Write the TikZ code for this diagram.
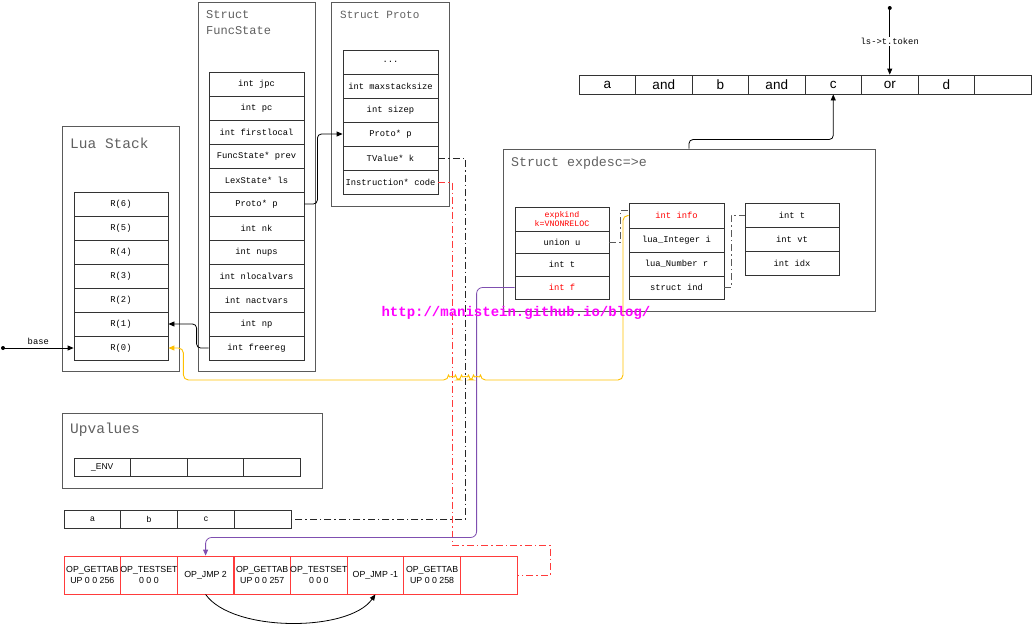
\documentclass[tikz,border=0pt]{standalone}
\usepackage{fontspec}
\setmainfont{Liberation Sans}
\setmonofont{Liberation Mono}
\usetikzlibrary{positioning,arrows.meta}

\definecolor{linegray}{HTML}{5A5A5A}
\definecolor{titlegray}{HTML}{606060}
\definecolor{opred}{HTML}{FF3B3B}
\definecolor{hotred}{HTML}{FF0000}
\definecolor{linkyellow}{HTML}{FFC000}
\definecolor{linkpurple}{HTML}{7F4FB0}
\definecolor{markmagenta}{HTML}{FF00FF}

\begin{document}
\begin{tikzpicture}[x=1pt, y=-1pt,
  % Node Styles
  frame/.style={rectangle, draw=linegray, line width=1pt, inner sep=0pt},
  boxtitle/.style={anchor=west, text=titlegray, inner sep=0pt, align=left},
  cell/.style={rectangle, draw=black!80, line width=0.8pt, minimum width=95pt, minimum height=24pt, inner sep=0pt, align=center, font=\ttfamily\fontsize{8.8}{9.5}\selectfont},
  tokcell/.style={rectangle, draw=black!80, line width=0.8pt, minimum width=56.5pt, minimum height=19pt, inner sep=0pt, font=\fontsize{13.5}{14}\selectfont},
  smallcell/.style={rectangle, draw=black!80, line width=0.8pt, minimum width=56.5pt, minimum height=18pt, inner sep=0pt, font=\fontsize{8.5}{9}\selectfont},
  opcell/.style={rectangle, draw=opred, line width=0.8pt, minimum width=56.625pt, minimum height=38pt, inner sep=0pt, align=center, font=\fontsize{8.8}{11}\selectfont},
  % Arrow Styles
  arr/.style={-{Triangle[length=6pt,width=5pt]}, line width=0.8pt},
  dashlink/.style={line width=0.9pt, dash pattern=on 7pt off 3pt on 1.5pt off 3pt},
]
\useasboundingbox (0,0) rectangle (1033,627);

% Outer boxes
\node[frame, minimum width=117pt, minimum height=245pt] (stackbox) at (120.5,248.5) {};
\node[frame, minimum width=117pt, minimum height=369pt] (fsbox) at (256.5,186.5) {};
\node[frame, minimum width=118pt, minimum height=204pt] (protobox) at (390,104) {};
\node[frame, minimum width=372pt, minimum height=162pt] (expbox) at (689,230) {};
\node[frame, minimum width=260pt, minimum height=75pt] (upvbox) at (192,450.5) {};

\node[boxtitle, font=\ttfamily\fontsize{14.5}{15}\selectfont] (stacktitle) at (70,143) {Lua Stack};
\node[boxtitle, font=\ttfamily\fontsize{12}{16}\selectfont] (fstitle) at (206,23) {Struct\\FuncState};
\node[boxtitle, font=\ttfamily\fontsize{11}{12}\selectfont] (prototitle) at (340,15) {Struct Proto};
\node[boxtitle, font=\ttfamily\fontsize{13.3}{14}\selectfont] (exptitle) at (511,163) {Struct expdesc=>e};
\node[boxtitle, font=\ttfamily\fontsize{14.5}{15}\selectfont] (upvtitle) at (70,430) {Upvalues};

% Lua Stack
\node[cell, minimum width=94pt] (r6) at (121,204) {R(6)};
\node[cell, minimum width=94pt] (r5) at (121,228) {R(5)};
\node[cell, minimum width=94pt] (r4) at (121,252) {R(4)};
\node[cell, minimum width=94pt] (r3) at (121,276) {R(3)};
\node[cell, minimum width=94pt] (r2) at (121,300) {R(2)};
\node[cell, minimum width=94pt] (r1) at (121,324) {R(1)};
\node[cell, minimum width=94pt] (r0) at (121,348) {R(0)};

% FuncState
\node[cell] (jpc) at (256.5,84) {int jpc};
\node[cell] (pc) at (256.5,108) {int pc};
\node[cell] (firstlocal) at (256.5,132) {int firstlocal};
\node[cell] (prev) at (256.5,156) {FuncState* prev};
\node[cell] (ls) at (256.5,180) {LexState* ls};
\node[cell] (fsproto) at (256.5,204) {Proto* p};
\node[cell] (nk) at (256.5,228) {int nk};
\node[cell] (nups) at (256.5,252) {int nups};
\node[cell] (nlocalvars) at (256.5,276) {int nlocalvars};
\node[cell] (nactvars) at (256.5,300) {int nactvars};
\node[cell] (np) at (256.5,324) {int np};
\node[cell] (freereg) at (256.5,348) {int freereg};

% Proto
\node[cell] (dots) at (390.5,62) {...};
\node[cell] (maxstack) at (390.5,86) {int maxstacksize};
\node[cell] (sizep) at (390.5,110) {int sizep};
\node[cell] (ptproto) at (390.5,134) {Proto* p};
\node[cell] (ptk) at (390.5,158) {TValue* k};
\node[cell] (ptcode) at (390.5,182) {Instruction* code};

% expdesc
\node[cell, minimum width=94pt, text=hotred, font=\ttfamily\fontsize{8.3}{9.5}\selectfont] (expkind) at (562,219) {expkind\\k=VNONRELOC};
\node[cell, minimum width=94pt, minimum height=22pt] (uu) at (562,242) {union u};
\node[cell, minimum width=94pt, minimum height=23pt] (et) at (562,264.5) {int t};
\node[cell, minimum width=94pt, minimum height=23pt, text=hotred] (ef) at (562,287.5) {int f};
\node[cell, minimum height=25pt, text=hotred] (info) at (676.5,215.5) {int info};
\node[cell] (ival) at (676.5,240) {lua\_Integer i};
\node[cell] (nval) at (676.5,264) {lua\_Number r};
\node[cell, minimum height=23pt] (ind) at (676.5,287.5) {struct ind};
\node[cell, minimum width=94pt] (rt) at (792,215) {int t};
\node[cell, minimum width=94pt] (rvt) at (792,239) {int vt};
\node[cell, minimum width=94pt] (ridx) at (792,263) {int idx};

% Tokens
\node[tokcell] (ta) at (607.25,84.5) {a};
\node[tokcell] (tand) at (663.75,84.5) {and};
\node[tokcell] (tb) at (720.25,84.5) {b};
\node[tokcell] (tand2) at (776.75,84.5) {and};
\node[tokcell] (tc) at (833.25,84.5) {c};
\node[tokcell] (tor) at (889.75,84.5) {or};
\node[tokcell] (td) at (946.25,84.5) {d};
\node[tokcell] (tx) at (1002.75,84.5) {};

% Upvalues and constants
\node[smallcell] (env) at (102.25,467) {\_ENV};
\node[smallcell] (upv2) at (158.75,467) {};
\node[smallcell] (upv3) at (215.25,467) {};
\node[smallcell] (upv4) at (271.75,467) {};
\node[smallcell, minimum width=56.75pt] (ka) at (92.4,519) {a};
\node[smallcell, minimum width=56.75pt] (kb) at (149.1,519) {b};
\node[smallcell, minimum width=56.75pt] (kc) at (205.9,519) {c};
\node[smallcell, minimum width=56.75pt] (kx) at (262.6,519) {};

% Code
\node[opcell] (op1) at (92.3,575) {OP\_GETTAB\\UP 0 0 256};
\node[opcell] (op2) at (148.9,575) {OP\_TESTSET\\0 0 0};
\node[opcell] (op3) at (205.6,575) {OP\_JMP 2};
\node[opcell] (op4) at (262.2,575) {OP\_GETTAB\\UP 0 0 257};
\node[opcell] (op5) at (318.8,575) {OP\_TESTSET\\0 0 0};
\node[opcell] (op6) at (375.4,575) {OP\_JMP -1};
\node[opcell] (op7) at (432.1,575) {OP\_GETTAB\\UP 0 0 258};
\node[opcell] (op8) at (488.7,575) {};

% Links
\coordinate (basept) at (3,348);
\fill (basept) circle[radius=2pt];
\draw[arr] (basept) -- node[above=0pt, font=\ttfamily\fontsize{8.8}{9}\selectfont] {base} (r0.west);

\coordinate (tokpt) at (889.75,8);
\fill (tokpt) circle[radius=2pt];
\draw[arr] (tokpt) -- node[fill=white, inner sep=1pt, font=\ttfamily\fontsize{8.8}{9}\selectfont] {ls->t.token} (tor.north);

\draw[arr, rounded corners=4pt] (freereg.west) -- ++(-12,0) |- (r1.east);
\draw[arr, rounded corners=4pt] (fsproto.east) -- ++(13,0) |- (ptproto.west);
\draw[arr, rounded corners=4pt] (expbox.north) -- ++(0,-9) -| (tc.south);

\draw[dashlink, draw=black!85] (ptk.east) -- ++(27,0) |- (kx.east);
\draw[dashlink, draw=opred] (ptcode.east) -- ++(14,0) -- ++(0,363) -- ++(98,0) |- (op8.east);
\draw[dashlink, draw=linegray] (uu.east) -- ++(11,0) |- ([yshift=5pt]info.west);
\draw[dashlink, draw=linegray] (ind.east) -- ++(7,0) |- (rt.west);

\draw[arr, draw=linkpurple, rounded corners=6pt] (ef.west) -- ++(-38,0) -- ++(0,250) -| (op3.north);
\draw[{Triangle[length=6pt,width=5pt]}-, line width=0.9pt, draw=linkyellow, rounded corners=5pt]
  (r0.east) -- ++(15,0) -- ++(0,32) -- (448.5,380)
  arc[start angle=180, end angle=360, radius=3.5] -- (461.5,380)
  arc[start angle=180, end angle=360, radius=3.5] -- (473.5,380)
  arc[start angle=180, end angle=360, radius=3.5] -- (623,380) |- (info.west);

\draw[arr] (op3.south) to[out=-55, in=-125, looseness=0.7] (op6.south);

\node[text=markmagenta, font=\ttfamily\bfseries\fontsize{14}{14}\selectfont] (mark) at (516,313) {http://manistein.github.io/blog/};
\end{tikzpicture}
\end{document}
